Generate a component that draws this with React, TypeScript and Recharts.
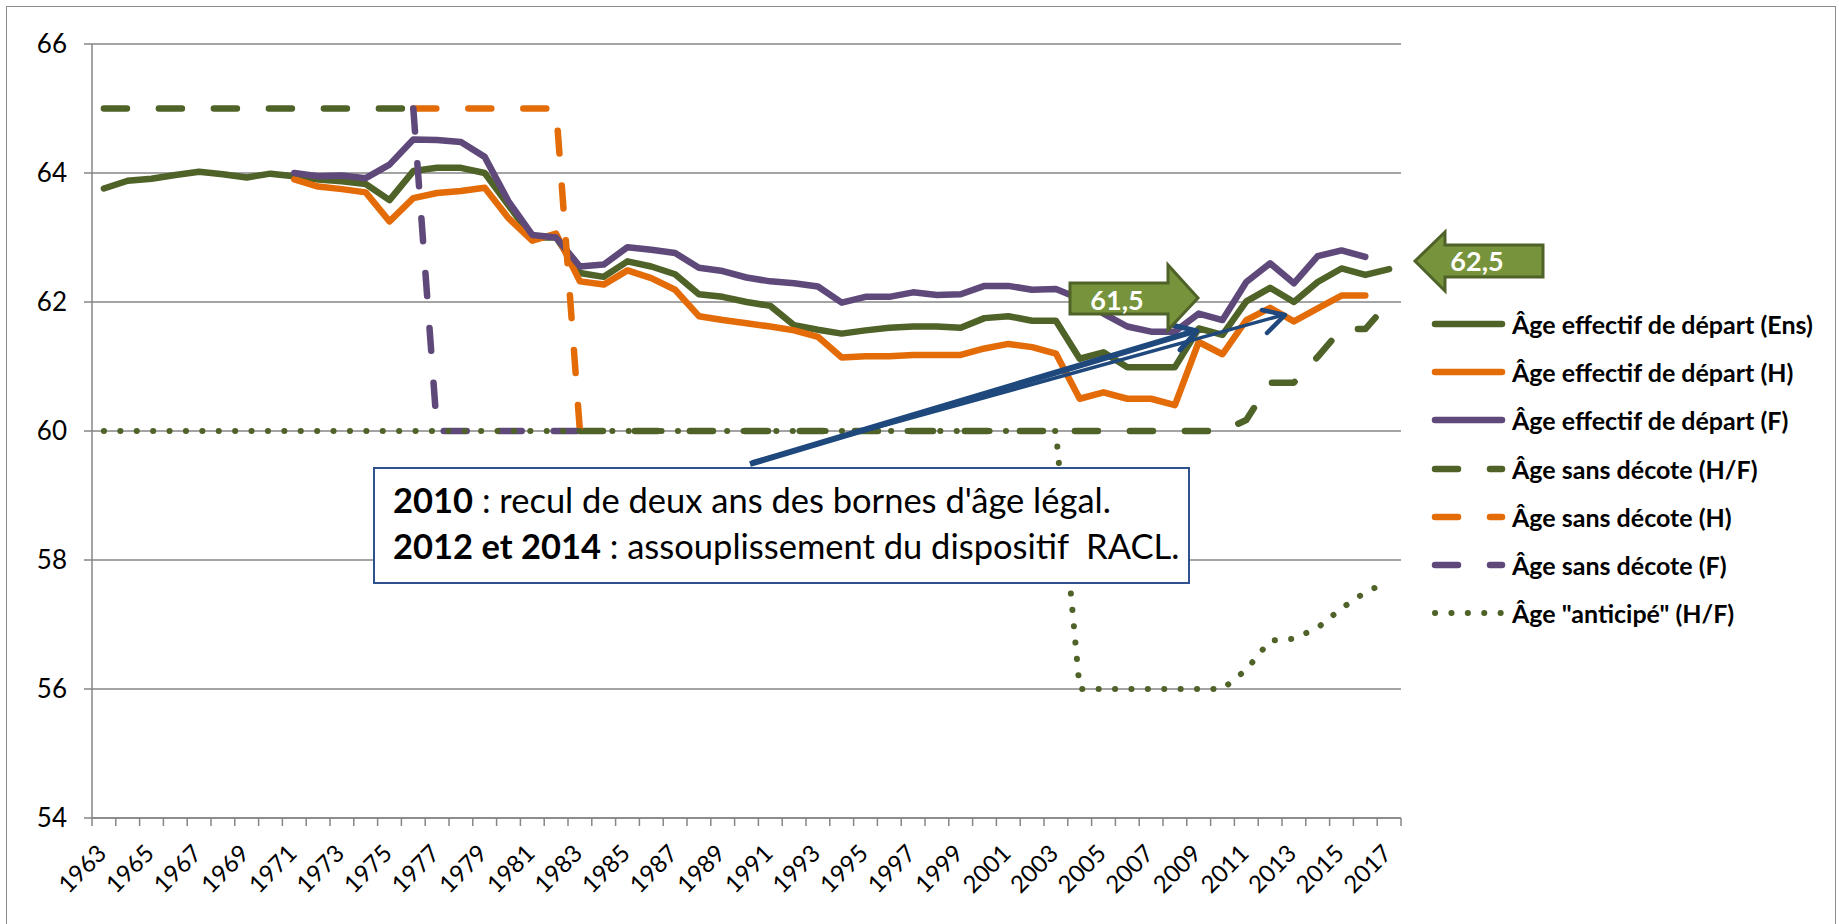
import React from 'react';
import { LineChart, Line, XAxis, YAxis, CartesianGrid } from 'recharts';

// années 1963 -> 2017
const years: number[] = [];
for (let y = 1963; y <= 2017; y++) years.push(y);

const ageEns = [
  63.76, 63.88, 63.91, 63.97, 64.02, 63.98, 63.93, 63.99, 63.95, 63.9,
  63.87, 63.83, 63.58, 64.03, 64.08, 64.08, 64.0, 63.5, 63.0, 63.0,
  62.45, 62.39, 62.63, 62.55, 62.43, 62.12, 62.08, 62.0, 61.94, 61.64,
  61.57, 61.51, 61.56, 61.6, 61.62, 61.62, 61.6, 61.75, 61.78, 61.71,
  61.71, 61.12, 61.22, 60.99, 60.99, 60.99, 61.59, 61.49, 62.01, 62.22,
  62.0, 62.31, 62.52, 62.42, 62.51,
];

const ageH = [
  null, null, null, null, null, null, null, null, 63.9, 63.79,
  63.75, 63.7, 63.25, 63.61, 63.69, 63.72, 63.77, 63.3, 62.95, 63.06,
  62.32, 62.27, 62.49, 62.37, 62.19, 61.78, 61.72, 61.67, 61.62, 61.56,
  61.46, 61.14, 61.16, 61.16, 61.18, 61.18, 61.18, 61.28, 61.35, 61.3,
  61.2, 60.5, 60.6, 60.5, 60.5, 60.4, 61.38, 61.19, 61.72, 61.91,
  61.7, 61.9, 62.1, 62.1, null,
];

const ageF = [
  null, null, null, null, null, null, null, null, 64.0, 63.95,
  63.96, 63.92, 64.13, 64.52, 64.51, 64.48, 64.25, 63.56, 63.04, 63.0,
  62.55, 62.58, 62.85, 62.81, 62.76, 62.53, 62.48, 62.38, 62.32, 62.29,
  62.24, 61.99, 62.08, 62.08, 62.15, 62.11, 62.12, 62.25, 62.25, 62.19,
  62.2, 62.05, 61.82, 61.62, 61.54, 61.54, 61.82, 61.72, 62.31, 62.6,
  62.29, 62.71, 62.8, 62.7, null,
];

const sansDecoteHF = [
  65, 65, 65, 65, 65, 65, 65, 65, 65, 65,
  65, 65, 65, 65, null, null, null, null, null, null,
  60, 60, 60, 60, 60, 60, 60, 60, 60, 60,
  60, 60, 60, 60, 60, 60, 60, 60, 60, 60,
  60, 60, 60, 60, 60, 60, 60, 60, 60.17, 60.75,
  60.75, 61.15, 61.58, 61.58, 62,
];

const sansDecoteH = [
  null, null, null, null, null, null, null, null, null, null,
  null, null, null, 65, 65, 65, 65, 65, 65, 65,
  60, null, null, null, null, null, null, null, null, null,
  null, null, null, null, null, null, null, null, null, null,
  null, null, null, null, null, null, null, null, null, null,
  null, null, null, null, null,
];

const sansDecoteF = [
  null, null, null, null, null, null, null, null, null, null,
  null, null, null, 65, 60, 60, 60, 60, 60, 60,
  60, null, null, null, null, null, null, null, null, null,
  null, null, null, null, null, null, null, null, null, null,
  null, null, null, null, null, null, null, null, null, null,
  null, null, null, null, null,
];

const anticipe = [
  60, 60, 60, 60, 60, 60, 60, 60, 60, 60,
  60, 60, 60, 60, 60, 60, 60, 60, 60, 60,
  60, 60, 60, 60, 60, 60, 60, 60, 60, 60,
  60, 60, 60, 60, 60, 60, 60, 60, 60, 60,
  60, 56, 56, 56, 56, 56, 56, 56, 56.3, 56.75,
  56.78, 56.95, 57.25, 57.5, 57.67,
];

const yTicks = [54, 56, 58, 60, 62, 64, 66];
const labelYears = years.filter((y) => (y - 1963) % 2 === 0);
const boundaryTicks = [...years.map((y) => y - 0.5), 2017.5];

const GREEN = '#4f6228';
const ORANGE = '#e36c09';
const PURPLE = '#5f497a';
const BLUE = '#1f497d';
const GRID = '#868686';
const FONT = 'Lato, "Open Sans", sans-serif';

const data = years.map((year, i) => ({
  year,
  ens: ageEns[i],
  h: ageH[i],
  f: ageF[i],
  sdHF: sansDecoteHF[i],
  sdH: sansDecoteH[i],
  sdF: sansDecoteF[i],
  anticipe: anticipe[i],
}));

const series = [
  { key: 'ens', name: 'Âge effectif de départ (Ens)', color: GREEN, dash: undefined, width: 6.5 },
  { key: 'h', name: 'Âge effectif de départ (H)', color: ORANGE, dash: undefined, width: 6.5 },
  { key: 'f', name: 'Âge effectif de départ (F)', color: PURPLE, dash: undefined, width: 6.5 },
  { key: 'sdHF', name: 'Âge sans décote (H/F)', color: GREEN, dash: '23 32', width: 6.5 },
  { key: 'sdH', name: 'Âge sans décote (H)', color: ORANGE, dash: '23 32', width: 6.5 },
  { key: 'sdF', name: 'Âge sans décote (F)', color: PURPLE, dash: '23 32', width: 6.5 },
  { key: 'anticipe', name: 'Âge "anticipé" (H/F)', color: GREEN, dash: '0.1 16.3', width: 6 },
];

const XTick = (props: any) => {
  const { x, y, payload } = props;
  const v = payload.value;
  if (v % 1 !== 0) {
    return <line x1={x} x2={x} y1={y} y2={y + 8} stroke={GRID} strokeWidth={1.5} />;
  }
  const ax = x + 4;
  const ay = y + 37;
  return (
    <text x={ax} y={ay} transform={`rotate(-45 ${ax} ${ay})`} textAnchor="end" fontFamily={FONT} fontSize={24} fill="#000">
      {v}
    </text>
  );
};

const Legend = () => (
  <div style={{ position: 'absolute', left: 1428, top: 300 }}>
    {series.map((s, i) => (
      <div key={s.key} style={{ position: 'absolute', top: i * 48.2, left: 0, height: 48, display: 'flex', alignItems: 'center', whiteSpace: 'nowrap' }}>
        <svg width={80} height={20}>
          <line x1={7} x2={74} y1={10} y2={10} stroke={s.color} strokeWidth={s.width} strokeLinecap="round" strokeDasharray={s.dash} />
        </svg>
        <span style={{ fontFamily: FONT, fontWeight: 700, fontSize: 25, marginLeft: 4, color: '#000' }}>{s.name}</span>
      </div>
    ))}
  </div>
);

const Annotations = () => (
  <svg width={1839} height={924} style={{ position: 'absolute', left: 0, top: 0, pointerEvents: 'none' }}>
    {/* flèches bleues */}
    <line x1={750} y1={464} x2={1195} y2={331} stroke={BLUE} strokeWidth={6} />
    <polyline points="1172,325 1197,331 1180,350" fill="none" stroke={BLUE} strokeWidth={5} strokeLinecap="round" strokeLinejoin="round" />
    <line x1={752} y1={462} x2={1283} y2={315} stroke={BLUE} strokeWidth={3.5} />
    <polyline points="1262,310 1285,315 1267,333" fill="none" stroke={BLUE} strokeWidth={4.5} strokeLinecap="round" strokeLinejoin="round" />

    {/* 61,5 */}
    <polygon points="1070,283 1168,283 1168,265 1198,298 1168,330 1168,314 1070,314" fill="#77933c" stroke={GREEN} strokeWidth={3} strokeLinejoin="miter" />
    <text x={1117} y={310} textAnchor="middle" fontFamily={FONT} fontWeight={700} fontSize={27} fill="#fff">61,5</text>

    {/* 62,5 */}
    <polygon points="1415,261 1445,232 1445,245 1543,245 1543,277 1445,277 1445,291" fill="#77933c" stroke={GREEN} strokeWidth={3} strokeLinejoin="miter" />
    <text x={1477} y={271} textAnchor="middle" fontFamily={FONT} fontWeight={700} fontSize={27} fill="#fff">62,5</text>
  </svg>
);

const TextBox = () => (
  <div
    style={{
      position: 'absolute',
      left: 373,
      top: 467,
      width: 817,
      height: 117,
      border: '2px solid #2f528f',
      background: '#fff',
      fontFamily: FONT,
      fontSize: 34.5,
      lineHeight: '46px',
      color: '#000',
      paddingTop: 8,
      paddingLeft: 18,
      boxSizing: 'border-box',
      whiteSpace: 'pre',
    }}
  >
    <div><b>2010</b> : recul de deux ans des bornes d'âge légal.</div>
    <div><b>2012 et 2014</b> : assouplissement du dispositif  RACL.</div>
  </div>
);

export default function App() {
  return (
    <div style={{ position: 'absolute', left: 0, top: 0, width: 1839, height: 924, overflow: 'hidden', background: '#fff' }}>
      <div style={{ position: 'absolute', left: 6, top: 6, width: 1830, height: 960, border: '1.5px solid #8c8c8c', boxSizing: 'border-box' }} />
      <LineChart width={1839} height={924} data={data} margin={{ top: 44, right: 438, bottom: 6, left: 0 }}>
        <CartesianGrid horizontal vertical={false} stroke={GRID} strokeWidth={1.5} />
        <XAxis
          dataKey="year"
          type="number"
          domain={[1962.5, 2017.5]}
          allowDataOverflow
          ticks={[...boundaryTicks, ...labelYears]}
          interval={0}
          tick={<XTick />}
          tickLine={false}
          tickSize={0}
          tickMargin={0}
          height={100}
          axisLine={{ stroke: GRID, strokeWidth: 1.5 }}
        />
        <YAxis
          domain={[54, 66]}
          ticks={yTicks}
          interval={0}
          width={92}
          tickSize={8}
          tickMargin={17}
          tickLine={{ stroke: GRID, strokeWidth: 1.5 }}
          axisLine={{ stroke: GRID, strokeWidth: 1.5 }}
          tick={{ fontFamily: FONT, fontSize: 26, fill: '#000' }}
        />
        {series.map((s) => (
          <Line
            key={s.key}
            type="linear"
            dataKey={s.key}
            name={s.name}
            stroke={s.color}
            strokeWidth={s.width}
            strokeDasharray={s.dash}
            strokeLinecap="round"
            strokeLinejoin="round"
            dot={false}
            activeDot={false}
            connectNulls={false}
            isAnimationActive={false}
          />
        ))}
      </LineChart>
      <Legend />
      <Annotations />
      <TextBox />
    </div>
  );
}
